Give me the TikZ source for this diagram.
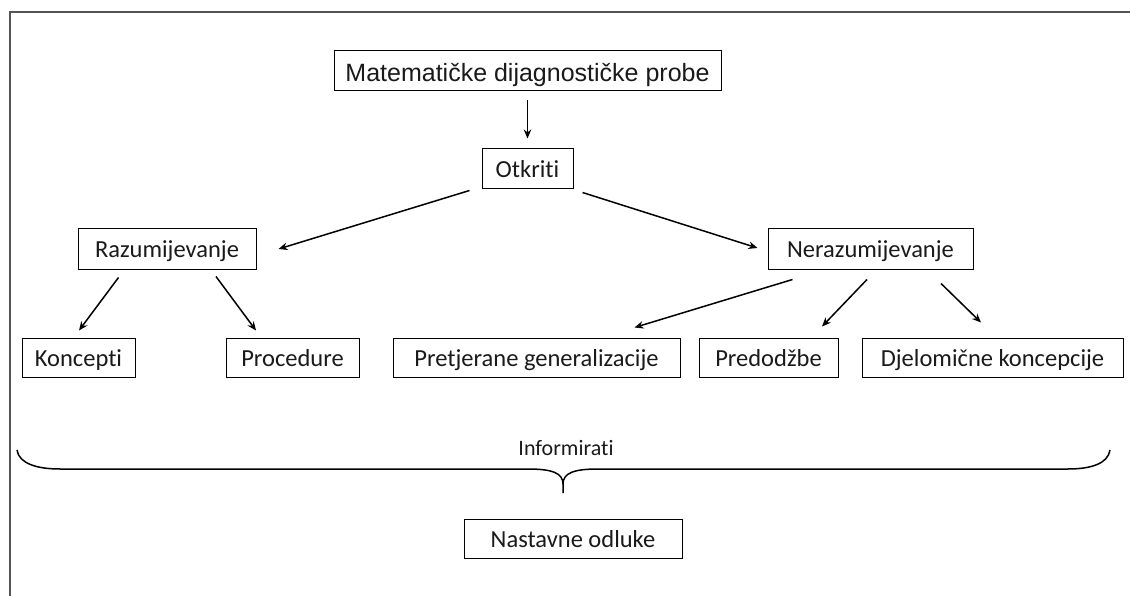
\documentclass[tikz,border=0pt]{standalone}
\usepackage{fontspec}
\setmainfont{Carlito}[Ligatures={NoCommon}]
\newfontfamily\arialfont{Liberation Sans}
\usetikzlibrary{arrows.meta}
\definecolor{txt}{HTML}{1A1A1A}
\definecolor{framec}{HTML}{555555}
\tikzset{
  box/.style={draw=black, line width=1pt, rectangle, inner sep=0pt, minimum height=40pt, text=txt,
    text height=17.4pt, text depth=0pt, font=\fontsize{24.5}{29}\selectfont},
  arr/.style={draw=black, line width=1.5pt, -{Stealth[length=9pt,width=7.5pt]}},
  bracestyle/.style={draw=black, line width=1.5pt},
  framestyle/.style={draw=framec, line width=1.4pt},
}
\begin{document}
\begin{tikzpicture}[x=1pt,y=-1pt]
\useasboundingbox[fill=white] (0,0) rectangle (1130,596);
\draw[framestyle] (10,596) -- (10,12) -- (1130,12);

\node[box, minimum width=387pt, text height=22pt, font=\arialfont\fontsize{25}{30}\selectfont] (top) at (527.5,71) {Matematičke dijagnostičke probe};
\node[box, minimum width=91pt] (otk) at (527.5,169) {Otkriti};
\node[box, minimum width=178pt] (raz) at (167,249) {Razumijevanje};
\node[box, minimum width=205pt] (ner) at (870.5,249) {Nerazumijevanje};
\node[box, minimum width=113pt, minimum height=39pt] (kon) at (78.5,357.5) {Koncepti};
\node[box, minimum width=133pt, minimum height=39pt] (pro) at (292.5,357.5) {Procedure};
\node[box, minimum width=287pt, minimum height=39pt] (pre) at (536.5,357.5) {Pretjerane generalizacije};
\node[box, minimum width=139pt, minimum height=39pt] (pred) at (768.5,357.5) {Predodžbe};
\node[box, minimum width=261pt, minimum height=39pt] (dje) at (992.5,357.5) {Djelomične koncepcije};
\node[box, minimum width=218pt, minimum height=39pt] (nas) at (573,538.5) {Nastavne odluke};
\node[text=txt, font=\fontsize{22}{26}\selectfont, inner sep=0pt] (inf) at (566,448) {Informirati};

\draw[arr] ([yshift=-9pt]top.south) -- ([yshift=10pt]otk.north);
\draw[arr] ([xshift=-12pt,yshift=-1pt]otk.south west) -- ([xshift=22pt]raz.east);
\draw[arr] ([xshift=9pt,yshift=-3pt]otk.south east) -- ([xshift=-10pt,yshift=1pt]ner.west);
\draw[arr] ([xshift=41pt,yshift=-8pt]raz.south west) -- ([xshift=0.5pt,yshift=7pt]kon.north);
\draw[arr] ([xshift=49pt,yshift=-7pt]raz.south) -- ([xshift=-36.5pt,yshift=7pt]pro.north);
\draw[arr] ([xshift=25pt,yshift=-10pt]ner.south west) -- ([xshift=-46pt,yshift=10pt]pre.north east);
\draw[arr] ([xshift=-3.5pt,yshift=-10pt]ner.south) -- ([xshift=53.5pt,yshift=11pt]pred.north);
\draw[arr] ([xshift=70.5pt,yshift=-14pt]ner.south) -- ([xshift=-11.5pt,yshift=15pt]dje.north);

\draw[bracestyle] (17,450) .. controls (19,464) and (38,469) .. (60,469) -- (528,469)
  .. controls (552,469) and (563,473) .. (563,484) -- (563,493);
\draw[bracestyle] (563,484) .. controls (563,473) and (574,469) .. (598,469) -- (1068,469)
  .. controls (1090,469) and (1108,464) .. (1110,450);
\end{tikzpicture}
\end{document}
